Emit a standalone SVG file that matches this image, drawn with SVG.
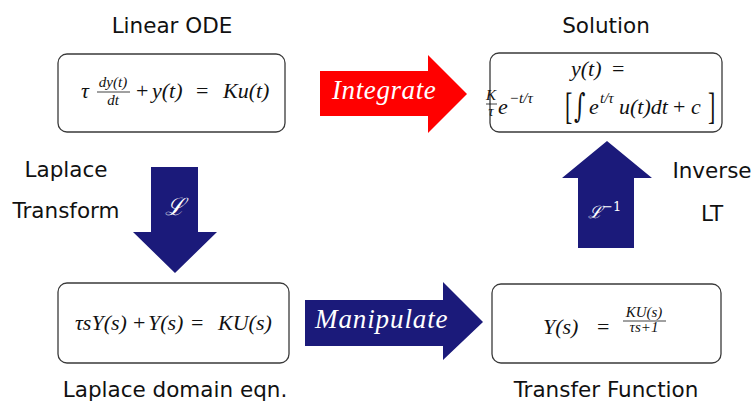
<svg xmlns="http://www.w3.org/2000/svg" width="751" height="403" viewBox="0 0 751 403">
<style>
.box{fill:#fff;stroke:#3a3a3a;stroke-width:1.3}
.lbl{font-family:"DejaVu Sans",sans-serif;font-size:21.5px;fill:#111;text-anchor:middle}
.m{font-family:"Liberation Serif",serif;font-style:italic;font-size:22px;fill:#111}
.ms{font-family:"Liberation Serif",serif;font-style:italic;font-size:15px;fill:#111}
.up{font-style:normal}
.bar{stroke:#111;stroke-width:0.8}
.alab{font-family:"Liberation Serif",serif;font-style:italic;font-size:27px;fill:#fff}
.navy{fill:#1b1a7a}
.red{fill:#ff0000}
</style>
<rect width="751" height="403" fill="#fff"/>

<g id="node-ode">
  <rect class="box" x="58" y="54" width="227" height="78" rx="9"/>
  <text class="m" x="81" y="98">τ</text>
  <text class="ms" x="113" y="87" text-anchor="middle">dy(t)</text>
  <line class="bar" x1="97" y1="92" x2="130" y2="92"/>
  <text class="ms" x="113" y="105" text-anchor="middle">dt</text>
  <text class="m up" x="136" y="98">+</text>
  <text class="m" x="152" y="98">y(t)</text>
  <text class="m up" x="196" y="98">=</text>
  <text class="m" x="223" y="98">Ku(t)</text>
  <text class="lbl" x="172" y="33">Linear ODE</text>
</g>

<g id="node-solution">
  <rect class="box" x="490" y="53" width="232" height="79" rx="9"/>
  <text class="m" x="571" y="76">y(t)</text>
  <text class="m up" x="612" y="76">=</text>
  <text class="ms" x="491" y="100" text-anchor="middle" font-size="11">K</text>
  <line class="bar" x1="486" y1="104" x2="497" y2="104"/>
  <text class="ms" x="491" y="116" text-anchor="middle" font-size="11">τ</text>
  <text class="m" x="498" y="114">e</text>
  <text class="ms" x="509" y="103">−t/τ</text>
  <text class="m up" transform="translate(565,119) scale(1,1.7)">[</text>
  <text transform="translate(574,117) scale(1,1.5)" font-family="DejaVu Serif, serif" font-size="22" fill="#111">∫</text>
  <text class="m" x="589" y="114">e</text>
  <text class="ms" x="600" y="103">t/τ</text>
  <text class="m" x="619" y="114">u(t)dt</text>
  <text class="m up" x="673" y="114">+</text>
  <text class="m" x="691" y="114">c</text>
  <text class="m up" transform="translate(708,119) scale(1,1.7)">]</text>
  <text class="lbl" x="606" y="33">Solution</text>
</g>

<g id="node-laplace">
  <rect class="box" x="58" y="283" width="231" height="80" rx="9"/>
  <text class="m" x="75" y="330">τsY(s)</text>
  <text class="m up" x="133" y="330">+</text>
  <text class="m" x="148" y="330">Y(s)</text>
  <text class="m up" x="191" y="330">=</text>
  <text class="m" x="218" y="330">KU(s)</text>
  <text class="lbl" x="175" y="397">Laplace domain eqn.</text>
</g>

<g id="node-tf">
  <rect class="box" x="492" y="284" width="229" height="79" rx="9"/>
  <text class="m" x="543" y="334">Y(s)</text>
  <text class="m up" x="597" y="334">=</text>
  <text class="ms" x="644" y="317" text-anchor="middle">KU(s)</text>
  <line class="bar" x1="623" y1="321" x2="666" y2="321"/>
  <text class="ms" x="644" y="332" text-anchor="middle">τs+1</text>
  <text class="lbl" x="606" y="397">Transfer Function</text>
</g>

<g id="connectors">
  <g id="arrow-integrate">
    <polygon class="red" points="320,71 428,71 428,55 467,94 428,133 428,116 320,116"/>
    <text class="alab" x="332" y="99" letter-spacing="0.6">Integrate</text>
  </g>
  <g id="arrow-manipulate">
    <polygon class="navy" points="305,300 443,300 443,282 483,322 443,360 443,346 305,346"/>
    <text class="alab" x="315" y="328" letter-spacing="0.9">Manipulate</text>
  </g>
  <g id="arrow-laplace">
    <polygon class="navy" points="151,167 198,167 198,232 217,232 175,273 133,232 151,232"/>
    <text x="175" y="215" font-family="DejaVu Serif, serif" font-style="italic" font-size="24" fill="#fff" text-anchor="middle">ℒ</text>
    <text class="lbl" x="66" y="177">Laplace</text>
    <text class="lbl" x="66" y="218">Transform</text>
  </g>
  <g id="arrow-inverse">
    <polygon class="navy" points="578,248 634,248 634,178 652,178 607,141 562,178 578,178"/>
    <text x="588" y="218" font-family="DejaVu Serif, serif" font-style="italic" font-size="17" fill="#fff">ℒ<tspan font-style="normal" font-size="13" dy="-7">−1</tspan></text>
    <text class="lbl" x="712" y="178">Inverse</text>
    <text class="lbl" x="712" y="221">LT</text>
  </g>
</g>
</svg>
